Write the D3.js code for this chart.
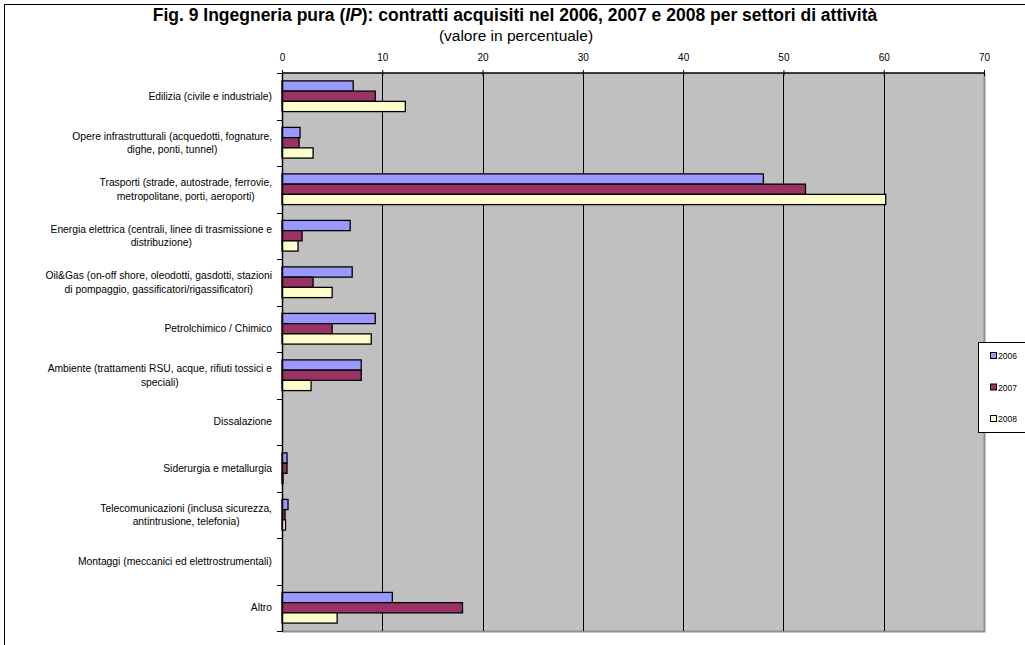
<!DOCTYPE html>
<html><head><meta charset="utf-8">
<script src="https://cdn.jsdelivr.net/npm/d3@7"></script>
<style>body{margin:0;background:#fff;}svg{display:block;font-family:Arial,"Liberation Sans",sans-serif;}</style>
</head><body>
<svg id="c" width="1025" height="645"></svg>
<script>
const categories = [
  ["Edilizia (civile e industriale)"],
  ["Opere infrastrutturali (acquedotti, fognature,","dighe, ponti, tunnel)"],
  ["Trasporti (strade, autostrade, ferrovie,","metropolitane, porti, aeroporti)"],
  ["Energia elettrica (centrali, linee di trasmissione e","distribuzione)"],
  ["Oil&Gas (on-off shore, oleodotti, gasdotti, stazioni","di pompaggio, gassificatori/rigassificatori)"],
  ["Petrolchimico / Chimico"],
  ["Ambiente (trattamenti RSU, acque, rifiuti tossici e","speciali)"],
  ["Dissalazione"],
  ["Siderurgia e metallurgia"],
  ["Telecomunicazioni (inclusa sicurezza,","antintrusione, telefonia)"],
  ["Montaggi (meccanici ed elettrostrumentali)"],
  ["Altro"]
];
const seriesNames = ["2006","2007","2008"];
const v2006 = [7.1, 1.8, 48.0, 6.8, 7.0, 9.3, 7.9, 0, 0.5, 0.6, 0, 11.0];
const v2007 = [9.3, 1.7, 52.2, 2.0, 3.1, 5.0, 7.9, 0, 0.5, 0.3, 0, 18.0];
const v2008 = [12.3, 3.1, 60.2, 1.6, 5.0, 8.9, 2.9, 0, 0.1, 0.35, 0, 5.5];
const xTicks = [0,10,20,30,40,50,60,70];
const colors = ["#9999FF","#993366","#FFFFCC"];
const series = [v2006, v2007, v2008];

const svg = d3.select("#c");
// outer frame
svg.append("rect").attr("x",4.5).attr("y",4.5).attr("width",1030).attr("height",650)
  .attr("fill","none").attr("stroke","#000").attr("stroke-width",1);

const L=282, R=984, T=73, B=631;
const x = d3.scaleLinear().domain([0,70]).range([L,R]);
const y = d3.scaleBand().domain(d3.range(categories.length)).range([T,B]);

// plot area
svg.append("rect").attr("x",L).attr("y",T).attr("width",R-L).attr("height",B-T).attr("fill","#C0C0C0");
svg.append("path").attr("d",`M${R+0.5},${T}V${B+0.5}H${L}`).attr("fill","none").attr("stroke","#909090").attr("stroke-width",2);

// gridlines
svg.append("g").selectAll("line").data(xTicks.filter(t=>t>0&&t<70)).join("line")
  .attr("x1",d=>Math.round(x(d))+0.5).attr("x2",d=>Math.round(x(d))+0.5)
  .attr("y1",T).attr("y2",B).attr("stroke","#000").attr("stroke-width",1);

// bars
const bh = y.bandwidth()*0.22;
const g0 = (y.bandwidth()-3*bh)/2;
series.forEach((s,si)=>{
  const data = s.map((v,i)=>({v,i})).filter(d=>d.v>0);
  svg.append("g").selectAll("rect").data(data).join("rect")
    .attr("x",L).attr("y",d=>y(d.i)+g0+si*bh)
    .attr("width",d=>x(d.v)-L).attr("height",bh)
    .attr("fill",colors[si]).attr("stroke","#000").attr("stroke-width",1.3);
});

// top axis
const ax = svg.append("g").attr("transform",`translate(0,${T})`)
  .call(d3.axisTop(x).tickValues(xTicks).tickSize(3).tickPadding(9));
ax.select(".domain").remove();
ax.append("line").attr("x1",L).attr("x2",R).attr("stroke","#000").attr("stroke-width",1.5);
ax.selectAll(".tick line").attr("y2",3).attr("y1",-3).attr("stroke","#000");
ax.selectAll(".tick text").attr("font-size",10).attr("fill","#000").attr("font-family","Arial,'Liberation Sans',sans-serif");

// left axis
svg.append("line").attr("x1",L+0.5).attr("x2",L+0.5).attr("y1",T).attr("y2",B+1).attr("stroke","#000").attr("stroke-width",1.5);
svg.append("g").selectAll("line").data(d3.range(categories.length+1)).join("line")
  .attr("x1",L-5).attr("x2",L).attr("y1",d=>Math.round(T+d*y.step())+0.5).attr("y2",d=>Math.round(T+d*y.step())+0.5)
  .attr("stroke","#000");

// category labels (centered block, right aligned)
const labG = svg.append("g").attr("font-size",10.3).attr("fill","#000");
categories.forEach((lines,i)=>{
  const t = labG.append("text").attr("text-anchor","middle");
  const spans = lines.map((ln,j)=>t.append("tspan").text(ln));
  const widths = spans.map(s=>s.node().getComputedTextLength());
  const mw = d3.max(widths);
  const cx = 272 - mw/2;
  const cy = y(i)+y.bandwidth()/2;
  const lh = 13.5;
  spans.forEach((s,j)=>s.attr("x",cx).attr("y",cy + (j-(lines.length-1)/2)*lh + 3.5));
});

// title
const title = svg.append("text").attr("x",515).attr("y",21).attr("text-anchor","middle")
  .attr("font-size",17.5).attr("font-weight","bold");
title.append("tspan").text("Fig. 9 Ingegneria pura (");
title.append("tspan").attr("font-style","italic").text("IP");
title.append("tspan").text("): contratti acquisiti nel 2006, 2007 e 2008 per settori di attività");
svg.append("text").attr("x",516).attr("y",41).attr("text-anchor","middle").attr("font-size",15.5).text("(valore in percentuale)");

// legend
svg.append("rect").attr("x",978.5).attr("y",342.5).attr("width",60).attr("height",90)
  .attr("fill","#fff").attr("stroke","#000");
seriesNames.forEach((n,i)=>{
  const ly = 356 + i*31.5;
  svg.append("rect").attr("x",990.5).attr("y",ly-3.5).attr("width",6).attr("height",6)
    .attr("fill",colors[i]).attr("stroke","#000");
  svg.append("text").attr("x",998).attr("y",ly+3).attr("font-size",8.5).text(n);
});
</script>
</body></html>
